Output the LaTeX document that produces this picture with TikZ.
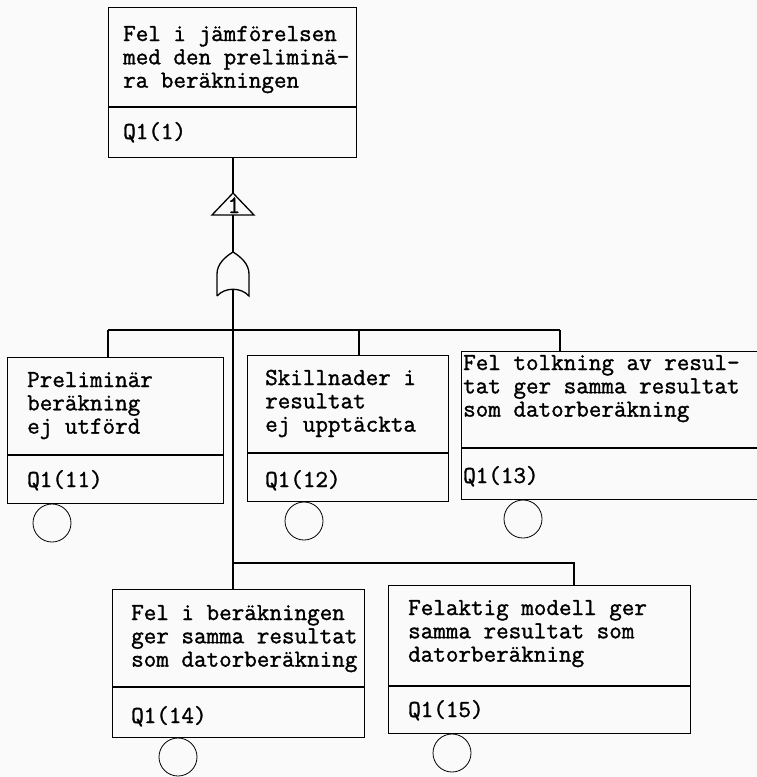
\documentclass[tikz,border=0pt]{standalone}
\usepackage{fontspec}
\newfontfamily\typefont{Latin Modern Mono}[FakeBold=1.3]
% stacked left-aligned lines whose reference point is the first baseline
\newcommand\txtlines[1]{\vtop{\halign{##\hfil\cr#1\crcr}}}
\begin{document}
\begin{tikzpicture}[x=1pt,y=-1pt,
  evbox/.style={draw, line width=1.4pt, rectangle, inner sep=0pt, anchor=north west},
  lbl/.style={anchor=base west, inner sep=0pt, font=\typefont\fontsize{24.4}{23.3}\selectfont},
  wire/.style={line width=1.3pt},
  divider/.style={line width=1.4pt},
  evcircle/.style={draw, circle, line width=0.8pt, minimum size=38pt, inner sep=0pt}]
\useasboundingbox (0,0) rectangle (757,777);
\clip (0,0) rectangle (757,777);
\fill[gray!4] (0,0) rectangle (757,777);

% ---------- top event ----------
\node[evbox, minimum width=248pt, minimum height=150pt] (top) at (108,7) {};
\draw[divider] (108,107) -- (356,107);
\node[lbl] (ttop) at (123,41) {\txtlines{Fel i jämförelsen\cr med den preliminä-\cr ra beräkningen}};
\node[lbl] (qtop) at (123,139) {Q1(1)};

% ---------- transfer triangle ----------
\coordinate (triapex) at (233,193);
\coordinate (tribase) at (233,215);
\draw[wire] (212,215) -- (triapex) -- (254,215) -- cycle;
\node[anchor=base, inner sep=0pt, font=\typefont\fontsize{25}{25}\selectfont] (trilbl) at (234,213) {1};

% ---------- OR gate ----------
\coordinate (orapex) at (233,252);
\coordinate (orbot) at (233,290);
\draw[wire] (217,296) -- (217,274) .. controls (217,264) and (225,257) .. (orapex)
  .. controls (241,257) and (249,264) .. (249,274) -- (249,296)
  .. controls (241,287) and (225,287) .. (217,296);

\draw[wire] (top.south -| triapex) -- (triapex);
\draw[wire] (tribase) -- (orapex);

% ---------- first level events ----------
\node[evbox, minimum width=216pt, minimum height=146pt] (b11) at (7,357) {};
\draw[divider] (7,455) -- (223,455);
\node[lbl] (t11) at (27,387) {\txtlines{Preliminär\cr beräkning\cr ej utförd}};
\node[lbl] (q11) at (27,487) {Q1(11)};
\node[evcircle] (e11) at (52,523) {};

\node[evbox, minimum width=201pt, minimum height=146pt] (b12) at (247,355) {};
\draw[divider] (247,453) -- (448,453);
\node[lbl] (t12) at (265,385) {\txtlines{Skillnader i\cr resultat\cr ej upptäckta}};
\node[lbl] (q12) at (265,487) {Q1(12)};
\node[evcircle] (e12) at (304,521) {};

\node[evbox, minimum width=320pt, minimum height=148pt] (b13) at (461,351) {};
\draw[divider] (461,448) -- (781,448);
\node[lbl] (t13) at (463,370) {\txtlines{Fel tolkning av resul-\cr tat ger samma resultat\cr som datorberäkning}};
\node[lbl] (q13) at (463,483) {Q1(13)};
\node[evcircle] (e13) at (523,519) {};

% ---------- second level events ----------
\node[evbox, minimum width=252pt, minimum height=148pt] (b14) at (112,589) {};
\draw[divider] (112,687) -- (364,687);
\node[lbl] (t14) at (131,620) {\txtlines{Fel i beräkningen\cr ger samma resultat\cr som datorberäkning}};
\node[lbl] (q14) at (131,723) {Q1(14)};
\node[evcircle] (e14) at (178,757) {};

\node[evbox, minimum width=302pt, minimum height=148pt] (b15) at (388,585) {};
\draw[divider] (388,686) -- (690,686);
\node[lbl] (t15) at (408,615) {\txtlines{Felaktig modell ger\cr samma resultat som\cr datorberäkning}};
\node[lbl] (q15) at (408,717) {Q1(15)};
\node[evcircle] (e15) at (452,753) {};

% ---------- connectors ----------
\coordinate (j11) at (108,330);
\coordinate (j12) at (359,330);
\coordinate (j13) at (560,330);
\coordinate (j14) at (233,563);
\coordinate (j15) at (574,563);

\draw[wire] (orbot) -- (orbot |- b14.north);
\draw[wire] (j11) -- (j13);
\draw[wire] (j11) -- (j11 |- b11.north);
\draw[wire] (j12) -- (j12 |- b12.north);
\draw[wire] (j13) -- (j13 |- b13.north);
\draw[wire] (j14) -- (j15) -- (j15 |- b15.north);
\end{tikzpicture}
\end{document}
